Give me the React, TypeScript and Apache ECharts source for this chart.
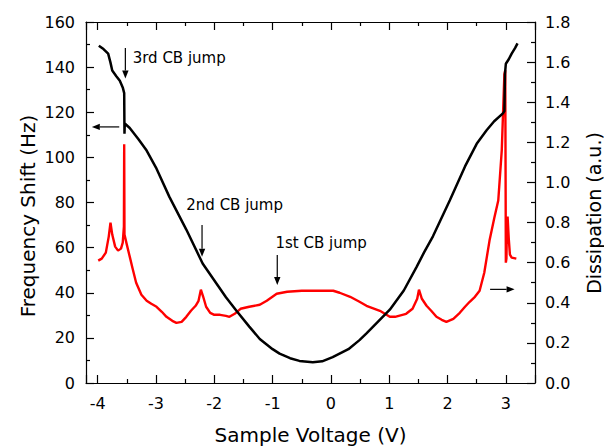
import React, { useEffect, useRef } from 'react';
import * as echarts from 'echarts';

// Frequency shift (left axis, Hz) vs sample voltage (V)
const freqVoltage = [
  -3.98, -3.9, -3.82, -3.78, -3.75, -3.68, -3.62, -3.57, -3.545, -3.54, -3.535,
  -3.45, -3.39, -3.3, -3.16, -3.0, -2.77, -2.48, -2.2, -1.96, -1.8, -1.62, -1.4,
  -1.22, -1.0, -0.88, -0.7, -0.54, -0.31, -0.15, 0.03, 0.3, 0.49, 0.61, 0.8, 1.01,
  1.25, 1.47, 1.6, 1.75, 2.04, 2.3, 2.5, 2.67, 2.8, 2.95, 2.975, 2.985, 3.0, 3.05,
  3.1, 3.16, 3.2,
];
const freqShift = [
  149.5, 148, 146, 142, 138.5, 136, 134, 131, 128.5, 110.5, 115,
  113, 111, 108, 103, 95.5, 82.5, 68, 53, 44, 38, 32, 25,
  19.5, 15, 13, 11, 9.8, 9.2, 9.6, 11.5, 15, 19, 22, 27, 32.5,
  41, 51.5, 58, 65, 81, 96, 106, 112, 116, 119.5, 120.5, 137, 141.5, 143.5,
  146, 148.5, 150.5,
];

// Dissipation (right axis, a.u.) vs sample voltage (V)
const dissVoltage = [
  -3.99, -3.93, -3.86, -3.81, -3.78, -3.75, -3.7, -3.65, -3.6, -3.57, -3.55, -3.545,
  -3.54, -3.5, -3.45, -3.4, -3.34, -3.25, -3.16, -3.08, -2.99, -2.9, -2.82, -2.72,
  -2.65, -2.56, -2.48, -2.4, -2.32, -2.27, -2.23, -2.19, -2.14, -2.07, -2.0, -1.9,
  -1.8, -1.74, -1.65, -1.55, -1.4, -1.22, -1.1, -0.93, -0.75, -0.5, -0.2, 0.04,
  0.15, 0.33, 0.49, 0.61, 0.84, 1.01, 1.1, 1.29, 1.4, 1.48, 1.51, 1.56, 1.64, 1.72,
  1.81, 1.9, 1.98, 2.1, 2.21, 2.3, 2.38, 2.47, 2.55, 2.63, 2.72, 2.8, 2.87, 2.93,
  2.975, 2.99, 3.0, 3.01, 3.02, 3.03, 3.05, 3.07, 3.1, 3.18,
];
const dissValue = [
  0.61, 0.62, 0.65, 0.73, 0.8, 0.74, 0.68, 0.66, 0.67, 0.7, 0.78, 1.19,
  0.74, 0.69, 0.63, 0.57, 0.5, 0.44, 0.41, 0.395, 0.38, 0.355, 0.33, 0.31,
  0.3, 0.305, 0.33, 0.36, 0.385, 0.41, 0.465, 0.43, 0.38, 0.35, 0.34, 0.34,
  0.335, 0.33, 0.345, 0.37, 0.38, 0.39, 0.41, 0.445, 0.455, 0.46, 0.46, 0.46,
  0.45, 0.43, 0.405, 0.385, 0.36, 0.33, 0.33, 0.345, 0.37, 0.42, 0.465, 0.42, 0.385, 0.36,
  0.33, 0.315, 0.305, 0.32, 0.35, 0.38, 0.405, 0.43, 0.46, 0.55, 0.71, 0.82, 0.91, 1.16,
  1.54, 1.56, 0.6, 0.62, 0.8, 0.83, 0.72, 0.64, 0.625, 0.62,
];

// Annotations (data coordinates: voltage, Hz)
const annotationTexts = [
  { text: '3rd CB jump', v: -3.4, hz: 144.1 },
  { text: '2nd CB jump', v: -2.48, hz: 78.9 },
  { text: '1st CB jump', v: -0.95, hz: 62.1 },
];
const annotationArrows = [
  { from: [-3.525, 148.5], to: [-3.525, 135] },
  { from: [-3.63, 113.5], to: [-4.1, 113.5] },
  { from: [-2.21, 70], to: [-2.21, 56] },
  { from: [-0.92, 56.7], to: [-0.92, 43.4] },
  { from: [2.73, 41.5], to: [3.15, 41.5] },
];

const FONT = 'DejaVu Sans';
const INK = '#000';

export default function App() {
  const ref = useRef<HTMLDivElement>(null);

  useEffect(() => {
    if (!ref.current) return;
    const chart = echarts.init(ref.current, null, { renderer: 'svg' });

    const freqData = freqVoltage.map((v, i) => [v, freqShift[i]]);
    const dissData = dissVoltage.map((v, i) => [v, dissValue[i]]);

    const axisLine = { show: true, onZero: false, lineStyle: { color: INK, width: 1.2 } };
    const axisTick = { show: true, inside: true, length: 8, lineStyle: { color: INK, width: 1.2 } };
    const minorTick = { show: true, splitNumber: 2, length: 4, lineStyle: { color: INK, width: 1.2 } };
    const labelStyle = { color: INK, fontFamily: FONT, fontSize: 16 };

    const xBase = {
      type: 'value' as const,
      min: -4.2,
      max: 3.5,
      splitNumber: 8,
      axisLine,
      axisTick,
      minorTick,
      splitLine: { show: false },
      minorSplitLine: { show: false },
    };

    chart.setOption({
      animation: false,
      backgroundColor: '#fff',
      grid: {
        left: 86,
        right: 69,
        top: 22,
        bottom: 65,
        containLabel: false,
        outerBoundsMode: 'none',
      },
      xAxis: [
        {
          ...xBase,
          position: 'bottom',
          name: 'Sample Voltage (V)',
          nameLocation: 'middle',
          nameGap: 42,
          nameMoveOverlap: false,
          nameTextStyle: { color: INK, fontFamily: FONT, fontSize: 20 },
          axisLabel: {
            ...labelStyle,
            margin: 12,
            formatter: (v: number) => (Math.abs(v - Math.round(v)) < 1e-6 ? String(Math.round(v)) : ''),
          },
        },
        {
          ...xBase,
          position: 'top',
          axisLabel: { show: false },
        },
      ],
      yAxis: [
        {
          type: 'value',
          position: 'left',
          min: 0,
          max: 160,
          interval: 20,
          axisLine,
          axisTick,
          minorTick,
          splitLine: { show: false },
          axisLabel: { ...labelStyle, margin: 11 },
        },
        {
          type: 'value',
          position: 'right',
          min: 0,
          max: 1.8,
          interval: 0.2,
          axisLine,
          axisTick,
          minorTick,
          splitLine: { show: false },
          axisLabel: { ...labelStyle, margin: 10, formatter: (v: number) => v.toFixed(1) },
        },
      ],
      series: [
        {
          type: 'line',
          name: 'Dissipation',
          xAxisIndex: 0,
          yAxisIndex: 1,
          data: dissData,
          symbol: 'none',
          showSymbol: false,
          lineStyle: { color: '#ff0000', width: 2.4 },
          z: 2,
        },
        {
          type: 'line',
          name: 'Frequency Shift',
          xAxisIndex: 0,
          yAxisIndex: 0,
          data: freqData,
          symbol: 'none',
          showSymbol: false,
          lineStyle: { color: INK, width: 2.5 },
          z: 3,
        },
      ],
    });

    const px = (v: number, hz: number) =>
      chart.convertToPixel({ xAxisIndex: 0, yAxisIndex: 0 }, [v, hz]) as number[];

    const graphics: any[] = [];
    annotationArrows.forEach((a) => {
      const p0 = px(a.from[0], a.from[1]);
      const p1 = px(a.to[0], a.to[1]);
      const dx = p1[0] - p0[0];
      const dy = p1[1] - p0[1];
      const len = Math.hypot(dx, dy);
      const ux = dx / len;
      const uy = dy / len;
      const headLen = 8;
      const headW = 3.2;
      const bx = p1[0] - ux * headLen;
      const by = p1[1] - uy * headLen;
      graphics.push({
        type: 'line',
        shape: { x1: p0[0], y1: p0[1], x2: bx, y2: by },
        style: { stroke: INK, lineWidth: 1.2 },
        z: 10,
      });
      graphics.push({
        type: 'polygon',
        shape: {
          points: [
            [p1[0], p1[1]],
            [bx - uy * headW, by + ux * headW],
            [bx + uy * headW, by - ux * headW],
          ],
        },
        style: { fill: INK },
        z: 10,
      });
    });
    annotationTexts.forEach((t) => {
      const p = px(t.v, t.hz);
      graphics.push({
        type: 'text',
        x: p[0],
        y: p[1],
        style: {
          text: t.text,
          fill: INK,
          font: `15px "${FONT}"`,
          textAlign: 'left',
          textVerticalAlign: 'middle',
        },
        z: 10,
      });
    });
    graphics.push({
      type: 'text',
      x: 28,
      y: 216,
      rotation: Math.PI / 2,
      style: {
        text: 'Frequency Shift (Hz)',
        fill: INK,
        font: `20px "${FONT}"`,
        textAlign: 'center',
        textVerticalAlign: 'middle',
      },
    });
    graphics.push({
      type: 'text',
      x: 594,
      y: 213,
      rotation: Math.PI / 2,
      style: {
        text: 'Dissipation (a.u.)',
        fill: INK,
        font: `19px "${FONT}"`,
        textAlign: 'center',
        textVerticalAlign: 'middle',
      },
    });
    chart.setOption({ graphic: graphics });

    return () => chart.dispose();
  }, []);

  return (
    <div
      ref={ref}
      style={{ position: 'fixed', left: 0, top: 0, width: 604, height: 448, background: '#fff' }}
    />
  );
}
